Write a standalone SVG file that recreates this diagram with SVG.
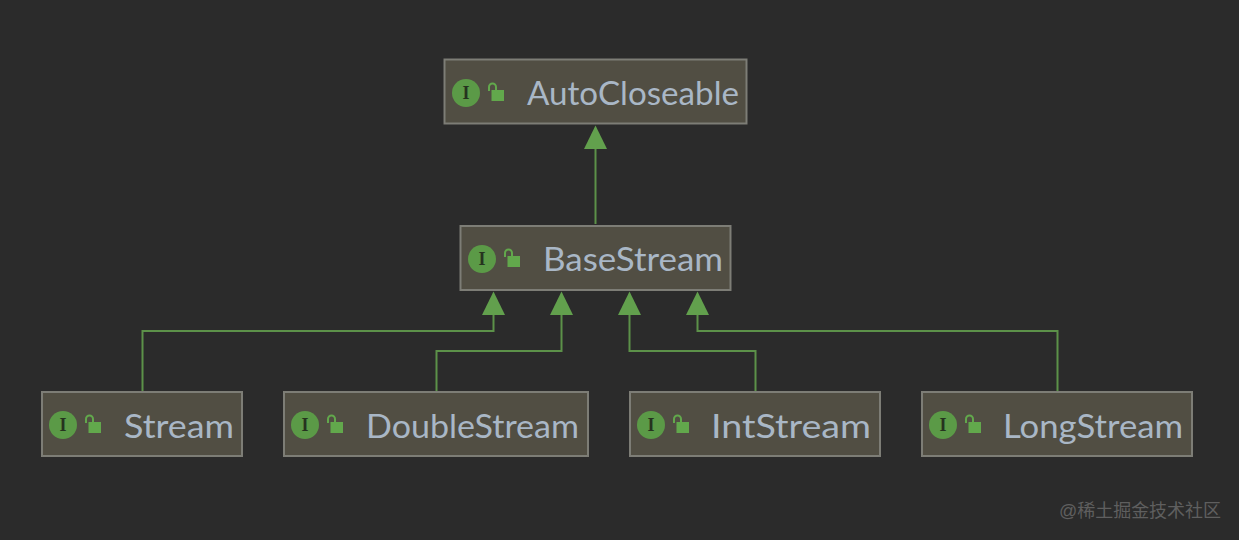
<svg xmlns="http://www.w3.org/2000/svg" width="1239" height="540" viewBox="0 0 1239 540">
<style>
.box{fill:#514e43;stroke:#7d7d76;stroke-width:2}
.lbl{font-family:"Lato","Noto Sans",sans-serif;font-size:33px;fill:#a9b7c6}
.edge{fill:none;stroke:#5c9149;stroke-width:2}
.head{fill:#62a04d}
.c{fill:#5b9a47}
.i{font-family:"Liberation Serif",serif;font-size:18px;font-weight:bold;fill:#26331f;text-anchor:middle}
.lock{fill:#62a84c}
.sh{fill:none;stroke:#62a84c;stroke-width:2}
.wm{font-family:"Liberation Sans","Noto Sans CJK SC",sans-serif;font-size:18px;fill:#5f5f5f}
</style>
<defs>
<g id="lk"><rect class="lock" x="3.500" y="1" width="12.500" height="11"/><path class="sh" d="M1 2V-2A3.500 3.500 0 0 1 8 -2V1"/></g>
</defs>
<rect width="1239" height="540" fill="#2b2b2b"/>
<g id="connectors">
<path class="edge" d="M595.500 224V148"/><path class="head" d="M595.500 125.500L607 149H584Z"/>
<path class="edge" d="M142.500 391V331H493.500V314"/><path class="head" d="M493.500 291.500L505 315H482Z"/>
<path class="edge" d="M436.500 391V351H561.500V314"/><path class="head" d="M561.500 291.500L573 315H550Z"/>
<path class="edge" d="M755.500 391V351H629.500V314"/><path class="head" d="M629.500 291.500L641 315H618Z"/>
<path class="edge" d="M1057.500 391V331H697.500V314"/><path class="head" d="M697.500 291.500L709 315H686Z"/>
</g>
<g id="AutoCloseable">
<rect class="box" x="444.500" y="59.500" width="302" height="64"/>
<circle class="c" cx="466" cy="93" r="14"/><text class="i" x="466" y="99">I</text>
<use href="#lk" x="488" y="89"/>
<text class="lbl" x="527" y="105" textLength="212" lengthAdjust="spacingAndGlyphs">AutoCloseable</text>
</g>
<g id="BaseStream">
<rect class="box" x="460.500" y="226" width="270" height="64"/>
<circle class="c" cx="482" cy="259" r="14"/><text class="i" x="482" y="265">I</text>
<use href="#lk" x="504" y="255"/>
<text class="lbl" x="543" y="271" textLength="180" lengthAdjust="spacingAndGlyphs">BaseStream</text>
</g>
<g id="Stream">
<rect class="box" x="42" y="392" width="200" height="64"/>
<circle class="c" cx="63" cy="425" r="14"/><text class="i" x="63" y="431">I</text>
<use href="#lk" x="85" y="421"/>
<text class="lbl" x="124" y="438" textLength="110" lengthAdjust="spacingAndGlyphs">Stream</text>
</g>
<g id="DoubleStream">
<rect class="box" x="284" y="392" width="304" height="64"/>
<circle class="c" cx="305" cy="425" r="14"/><text class="i" x="305" y="431">I</text>
<use href="#lk" x="327" y="421"/>
<text class="lbl" x="366" y="438" textLength="213" lengthAdjust="spacingAndGlyphs">DoubleStream</text>
</g>
<g id="IntStream">
<rect class="box" x="630" y="392" width="250" height="64"/>
<circle class="c" cx="651" cy="425" r="14"/><text class="i" x="651" y="431">I</text>
<use href="#lk" x="673" y="421"/>
<text class="lbl" x="711" y="438" textLength="160" lengthAdjust="spacingAndGlyphs">IntStream</text>
</g>
<g id="LongStream">
<rect class="box" x="922" y="392" width="270" height="64"/>
<circle class="c" cx="943" cy="425" r="14"/><text class="i" x="943" y="431">I</text>
<use href="#lk" x="965" y="421"/>
<text class="lbl" x="1003" y="438" textLength="180" lengthAdjust="spacingAndGlyphs">LongStream</text>
</g>
<text class="wm" x="1059" y="517" textLength="162">@稀土掘金技术社区</text>
</svg>
